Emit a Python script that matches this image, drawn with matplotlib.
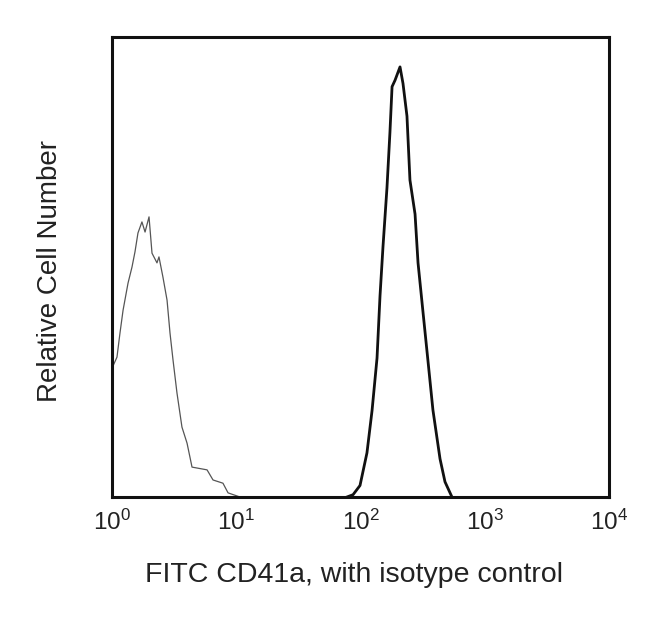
import matplotlib
matplotlib.use("Agg")
import matplotlib.pyplot as plt
import numpy as np

plt.rcParams['font.family'] = ['Liberation Sans', 'DejaVu Sans']
plt.rcParams['mathtext.fontset'] = 'custom'
plt.rcParams['mathtext.rm'] = 'Liberation Sans'

# isotype control (thin gray trace): log10 intensity, relative count
iso_log = [0.0, 0.040, 0.064, 0.089, 0.129, 0.161, 0.185, 0.209, 0.241, 0.266,
           0.298, 0.322, 0.362, 0.378, 0.410, 0.443, 0.467, 0.491, 0.523, 0.563,
           0.604, 0.644, 0.684, 0.765, 0.813, 0.893, 0.934, 1.030, 1.167]
iso_count = [28.0, 30.4, 35.6, 40.6, 46.5, 50.0, 53.3, 57.4, 59.8, 57.6,
             60.9, 53.0, 50.9, 52.2, 47.8, 42.8, 35.6, 29.8, 22.6, 15.2,
             11.7, 6.5, 6.3, 5.9, 3.7, 3.0, 0.9, 0.0, 0.0]

# FITC CD41a stained (thick black trace)
cd41_log = [1.891, 1.940, 1.996, 2.052, 2.093, 2.133, 2.157, 2.181, 2.213, 2.237,
            2.254, 2.278, 2.318, 2.342, 2.374, 2.398, 2.439, 2.463, 2.503, 2.543,
            2.583, 2.640, 2.680, 2.736]
cd41_count = [0.0, 0.5, 2.5, 9.6, 18.8, 30.2, 43.7, 54.4, 67.2, 79.3,
              89.2, 90.6, 93.5, 89.9, 82.8, 68.9, 61.5, 50.9, 40.2, 29.6,
              18.9, 8.3, 3.3, 0.0]

tick_exp = [0, 1, 2, 3, 4]

fig = plt.figure(figsize=(6.5, 6.22), dpi=100)
ax = fig.add_axes([112 / 650, 1 - 497 / 622, (609 - 112) / 650, (497 - 37) / 622])

ax.plot(10 ** np.array(iso_log), iso_count, color='#555555', lw=0.9)
ax.plot(10 ** np.array(cd41_log), cd41_count, color='#111111', lw=2.0)

ax.set_xscale('log')
ax.set_xlim(1, 1e4)
ax.set_ylim(0, 100)
ax.set_xticks([10 ** e for e in tick_exp])
ax.set_xticklabels([r'$\mathregular{10^{%d}}$' % e for e in tick_exp], fontsize=17.5, color='#222222')
ax.minorticks_off()
ax.set_yticks([])
ax.tick_params(axis='x', length=0, pad=9)
for s in ax.spines.values():
    s.set_linewidth(2.2)
    s.set_color('#111111')

fig.text(354 / 650, 1 - 582 / 622, 'FITC CD41a, with isotype control',
         ha='center', va='baseline', fontsize=20.5, color='#222222')
fig.text(50 / 650, 1 - 271 / 622, 'Relative Cell Number', rotation=90,
         ha='center', va='center', fontsize=20, color='#222222')

fig.savefig('out.png', dpi=100)
